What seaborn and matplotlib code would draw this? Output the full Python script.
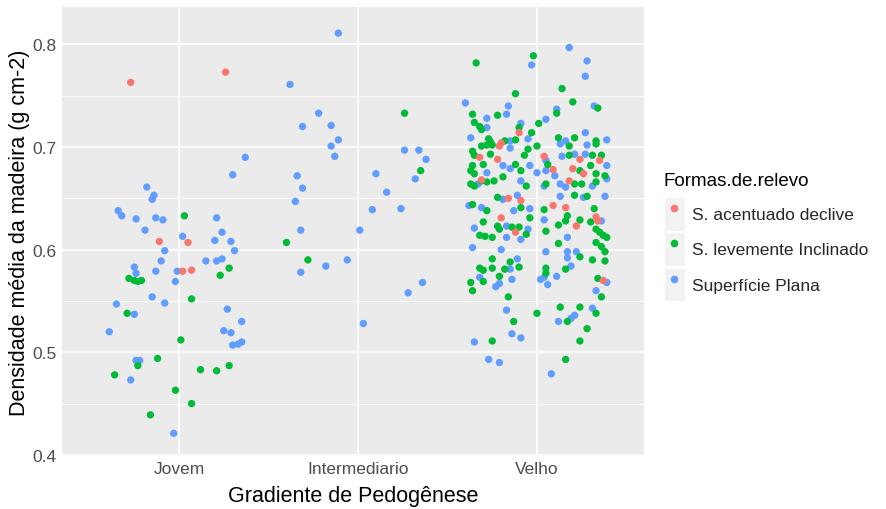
import matplotlib
matplotlib.use("Agg")
import matplotlib.pyplot as plt
from matplotlib.patches import Rectangle
from matplotlib.lines import Line2D
from matplotlib.legend_handler import HandlerTuple
import pandas as pd
import seaborn as sns

categorias = ["Jovem", "Intermediario", "Velho"]
formas = ["S. acentuado declive", "S. levemente Inclinado", "Superfície Plana"]
cores = ["#F8766D", "#00BA38", "#619CFF"]

# pares (deslocamento do jitter, densidade) por idade e forma de relevo
jovem_acentuado = [(-0.27, 0.763), (0.26, 0.773), (-0.11, 0.608), (0.05, 0.607),
                   (0.02, 0.579), (0.07, 0.580)]
jovem_levemente = [(0.03, 0.633), (0.28, 0.582), (0.23, 0.575), (-0.28, 0.572),
                   (-0.25, 0.570), (-0.23, 0.569), (-0.21, 0.570), (0.07, 0.552),
                   (-0.29, 0.538), (0.01, 0.512), (-0.12, 0.494), (-0.23, 0.487),
                   (-0.36, 0.478), (0.12, 0.483), (0.21, 0.482), (0.28, 0.487),
                   (-0.02, 0.463), (0.07, 0.450), (-0.16, 0.439)]
jovem_plana = [(0.37, 0.690), (0.30, 0.673), (-0.18, 0.661), (-0.14, 0.653),
               (-0.15, 0.649), (-0.34, 0.638), (-0.32, 0.633), (-0.24, 0.630),
               (-0.13, 0.631), (-0.09, 0.629), (0.21, 0.631), (-0.19, 0.619),
               (0.24, 0.617), (0.02, 0.613), (0.20, 0.609), (0.29, 0.608),
               (-0.08, 0.599), (0.31, 0.599), (-0.10, 0.589), (0.15, 0.589),
               (0.21, 0.589), (0.24, 0.591), (-0.25, 0.583), (-0.24, 0.577),
               (-0.13, 0.579), (-0.01, 0.579), (-0.02, 0.569), (-0.15, 0.554),
               (-0.08, 0.548), (-0.35, 0.547), (-0.25, 0.537), (0.27, 0.542),
               (0.35, 0.530), (-0.39, 0.520), (0.25, 0.521), (0.29, 0.519),
               (0.30, 0.507), (0.33, 0.508), (0.35, 0.510), (-0.24, 0.492),
               (-0.22, 0.492), (-0.27, 0.473), (-0.03, 0.421)]

inter_acentuado = []
inter_levemente = [(0.26, 0.733), (0.35, 0.677), (-0.40, 0.607), (-0.28, 0.590)]
inter_plana = [(-0.11, 0.811), (-0.38, 0.761), (-0.22, 0.733), (-0.31, 0.720),
               (-0.15, 0.721), (-0.11, 0.707), (-0.15, 0.701), (-0.13, 0.691),
               (0.26, 0.697), (0.34, 0.697), (0.38, 0.688), (-0.34, 0.672),
               (0.10, 0.674), (0.32, 0.669), (-0.31, 0.660), (0.16, 0.656),
               (-0.35, 0.647), (0.08, 0.639), (0.24, 0.640), (-0.32, 0.619),
               (0.01, 0.619), (-0.06, 0.590), (-0.18, 0.584), (-0.32, 0.578),
               (0.36, 0.568), (0.28, 0.558), (0.03, 0.528)]

velho_acentuado = [(-0.10, 0.714), (-0.20, 0.704), (-0.21, 0.701), (-0.32, 0.690),
                   (-0.22, 0.688), (0.04, 0.691), (0.24, 0.688), (0.35, 0.687),
                   (0.09, 0.678), (0.20, 0.679), (0.26, 0.674), (-0.31, 0.668),
                   (0.18, 0.667), (-0.16, 0.650), (-0.09, 0.648), (0.09, 0.643),
                   (0.16, 0.641), (-0.20, 0.631), (0.33, 0.632), (0.34, 0.628),
                   (0.22, 0.623), (-0.12, 0.617), (0.37, 0.570)]
velho_levemente = [(-0.34, 0.782), (-0.02, 0.789), (0.14, 0.757), (-0.12, 0.752),
                   (0.20, 0.744), (0.11, 0.733), (0.34, 0.738), (-0.36, 0.732),
                   (-0.22, 0.731), (-0.35, 0.724), (-0.32, 0.720), (-0.31, 0.717),
                   (0.01, 0.723), (-0.10, 0.719), (-0.03, 0.714), (-0.27, 0.708),
                   (-0.26, 0.705), (-0.18, 0.706), (-0.12, 0.707), (0.12, 0.709),
                   (0.21, 0.709), (0.33, 0.706), (-0.36, 0.696), (-0.31, 0.701),
                   (-0.28, 0.702), (-0.25, 0.702), (-0.05, 0.698), (0.00, 0.701),
                   (-0.07, 0.692), (0.18, 0.701), (0.33, 0.703), (-0.35, 0.692),
                   (-0.26, 0.693), (0.18, 0.692), (0.31, 0.692), (0.36, 0.692),
                   (-0.36, 0.682), (-0.30, 0.683), (-0.12, 0.683), (0.06, 0.683),
                   (0.30, 0.682), (-0.37, 0.677), (-0.35, 0.674), (-0.09, 0.677),
                   (0.24, 0.677), (0.33, 0.674), (0.38, 0.672), (-0.19, 0.671),
                   (-0.31, 0.667), (-0.37, 0.664), (-0.35, 0.662), (-0.28, 0.666),
                   (-0.24, 0.667), (-0.06, 0.662), (0.05, 0.664), (0.21, 0.664),
                   (0.25, 0.664), (0.33, 0.666), (-0.36, 0.644), (-0.22, 0.651),
                   (-0.09, 0.641), (-0.28, 0.638), (0.21, 0.653), (0.28, 0.652),
                   (0.04, 0.639), (0.32, 0.640), (-0.30, 0.627), (-0.04, 0.631),
                   (0.17, 0.633), (0.16, 0.628), (0.24, 0.629), (0.30, 0.627),
                   (-0.22, 0.623), (-0.21, 0.620), (-0.14, 0.622), (-0.10, 0.622),
                   (0.12, 0.624), (-0.06, 0.615), (0.05, 0.618), (0.33, 0.620),
                   (0.35, 0.617), (-0.32, 0.614), (-0.29, 0.613), (-0.25, 0.612),
                   (0.37, 0.614), (0.39, 0.612), (0.12, 0.606), (0.33, 0.607),
                   (0.36, 0.603), (0.38, 0.598), (0.24, 0.593), (0.31, 0.590),
                   (0.38, 0.589), (-0.25, 0.591), (-0.15, 0.588), (-0.10, 0.583),
                   (-0.32, 0.582), (-0.30, 0.580), (-0.25, 0.582), (-0.18, 0.581),
                   (0.16, 0.581), (0.05, 0.582), (0.05, 0.577), (-0.21, 0.574),
                   (-0.30, 0.569), (-0.37, 0.568), (0.34, 0.572), (-0.36, 0.560),
                   (-0.16, 0.554), (0.36, 0.554), (0.00, 0.538), (0.13, 0.544),
                   (0.24, 0.544), (0.33, 0.538), (0.17, 0.530), (-0.13, 0.530),
                   (0.28, 0.523), (-0.25, 0.511), (0.24, 0.511), (0.16, 0.493)]
velho_plana = [(-0.03, 0.780), (0.18, 0.797), (0.28, 0.784), (0.27, 0.769),
               (-0.40, 0.743), (-0.16, 0.740), (-0.17, 0.732), (0.11, 0.737),
               (0.32, 0.740), (-0.28, 0.728), (-0.28, 0.719), (0.05, 0.727),
               (-0.09, 0.723), (-0.05, 0.708), (-0.37, 0.709), (-0.15, 0.706),
               (0.16, 0.706), (0.27, 0.714), (0.39, 0.707), (-0.15, 0.699),
               (0.13, 0.703), (0.28, 0.702), (0.05, 0.687), (0.14, 0.691),
               (0.21, 0.693), (0.27, 0.693), (-0.19, 0.682), (-0.04, 0.682),
               (0.39, 0.682), (-0.28, 0.675), (-0.15, 0.679), (0.00, 0.675),
               (0.05, 0.677), (0.10, 0.672), (-0.33, 0.664), (-0.09, 0.667),
               (0.04, 0.662), (0.13, 0.664), (0.16, 0.661), (0.31, 0.662),
               (0.39, 0.669), (-0.38, 0.643), (-0.19, 0.649), (-0.11, 0.653),
               (-0.13, 0.638), (-0.04, 0.640), (-0.31, 0.641), (0.13, 0.652),
               (0.26, 0.651), (0.38, 0.652), (0.04, 0.629), (0.36, 0.628),
               (-0.17, 0.623), (-0.35, 0.621), (-0.05, 0.620), (-0.17, 0.612),
               (-0.09, 0.610), (0.17, 0.612), (-0.36, 0.602), (-0.20, 0.600),
               (0.05, 0.598), (0.17, 0.598), (0.22, 0.598), (0.17, 0.592),
               (-0.11, 0.591), (-0.15, 0.581), (0.19, 0.584), (0.02, 0.571),
               (0.04, 0.573), (0.11, 0.574), (-0.32, 0.573), (-0.14, 0.571),
               (-0.21, 0.567), (-0.23, 0.564), (0.06, 0.566), (0.39, 0.568),
               (0.33, 0.560), (-0.17, 0.541), (0.31, 0.543), (0.21, 0.536),
               (0.19, 0.533), (0.12, 0.530), (-0.14, 0.518), (-0.09, 0.514),
               (-0.35, 0.510), (-0.27, 0.493), (-0.21, 0.490), (0.08, 0.479)]

grupos = {
    "Jovem": [jovem_plana, jovem_levemente, jovem_acentuado],
    "Intermediario": [inter_plana, inter_levemente, inter_acentuado],
    "Velho": [velho_plana, velho_levemente, velho_acentuado],
}
ordem_formas = [formas[2], formas[1], formas[0]]

linhas = []
for i, cat in enumerate(categorias):
    for forma, pontos in zip(ordem_formas, grupos[cat]):
        for desloc, dens in pontos:
            linhas.append({"Idade": cat, "pos": i + desloc,
                           "Densidade": dens, "Forma": forma})
df = pd.DataFrame(linhas)

sns.set_theme(style="darkgrid")
plt.rcParams["font.family"] = ["Liberation Sans", "DejaVu Sans"]

W, H = 887, 510
fig = plt.figure(figsize=(W / 100, H / 100), dpi=100)
fig.patch.set_facecolor("white")
ax = fig.add_axes([62 / W, 1 - 457 / H, (644 - 62) / W, (457 - 8) / H])
ax.set_facecolor("#EBEBEB")

sns.scatterplot(data=df, x="pos", y="Densidade", hue="Forma",
                hue_order=formas, palette=cores, s=28, linewidth=0,
                legend=False, ax=ax, zorder=3)

ax.set_xlim(-0.654, 2.598)
ax.set_ylim(0.3989, 0.8365)
ax.set_xticks(range(len(categorias)))
ax.set_xticklabels(categorias)
ax.set_yticks([0.4, 0.5, 0.6, 0.7, 0.8])
ax.set_yticks([0.45, 0.55, 0.65, 0.75], minor=True)
ax.grid(which="major", color="white", linewidth=1.2)
ax.grid(which="minor", axis="y", color="white", linewidth=0.6)
ax.set_axisbelow(True)
for s in ax.spines.values():
    s.set_visible(False)
ax.tick_params(which="major", length=3, width=1, color="#333333",
               labelcolor="#4D4D4D", labelsize=12.5, pad=0.8)
ax.tick_params(which="minor", length=0)
ax.set_xlabel("Gradiente de Pedogênese", fontsize=15.5, color="black",
              labelpad=6)
ax.set_ylabel("Densidade média da madeira (g cm-2)", fontsize=15.5,
              color="black", labelpad=1.5)

fig.text(664 / W, 1 - 181 / H, "Formas.de.relevo", fontsize=13.5,
         ha="left", va="center", color="black")
handles = [(Rectangle((0, 0), 1, 1, facecolor="#F2F2F2", edgecolor="white"),
            Line2D([], [], marker="o", linestyle="", color=c, markersize=5.5,
                   markeredgewidth=0))
           for c in cores]
leg = fig.legend(handles, formas,
                 handler_map={tuple: HandlerTuple(ndivide=1)},
                 loc="upper left", bbox_to_anchor=(664 / W, 1 - 198 / H),
                 frameon=False, fontsize=12.5,
                 handlelength=1.2, handleheight=2.6,
                 labelspacing=0.1, handletextpad=0.4, borderpad=0,
                 borderaxespad=0)

fig.savefig("out.png", dpi=100)
